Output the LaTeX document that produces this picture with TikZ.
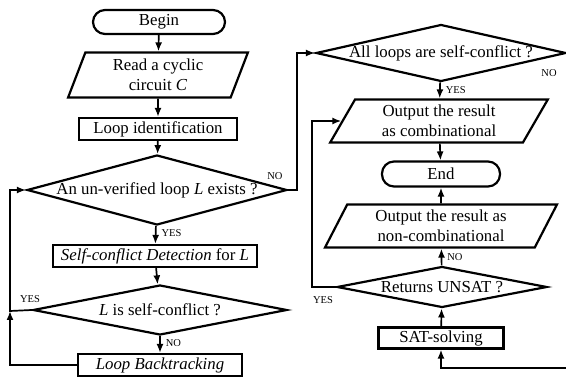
\documentclass[tikz,border=0pt]{standalone}
\usepackage{fontspec}
\setmainfont{Liberation Serif}
\usetikzlibrary{shapes.geometric,arrows.meta}

\begin{document}
\begin{tikzpicture}[x=1pt, y=-1pt, >={Latex[length=9pt,width=7pt]},
    every node/.style={font=\fontsize{16.8}{20}\selectfont, inner sep=1pt},
    term/.style={draw, line width=2.2pt, rounded corners=12pt, minimum height=24pt},
    proc/.style={draw, line width=2.2pt, minimum height=22pt},
    io/.style={draw, line width=2.2pt, trapezium, trapezium stretches=true, align=center},
    dec/.style={draw, line width=2.2pt, diamond, inner sep=0pt},
    flow/.style={->, line width=1.7pt},
    tag/.style={font=\fontsize{10.5}{12}\selectfont}]
        \useasboundingbox (0,0) rectangle (566,377);

        % left column
        \node[term, minimum width=132pt] (begin) at (159,22) {Begin};
        \node[io, trapezium left angle=72, trapezium right angle=108,
              minimum width=180pt, minimum height=45pt] (read) at (158,75)
              {Read a cyclic\\circuit \textit{C}};
        \node[proc, minimum width=158pt] (ident) at (158,129) {Loop identification};
        \node[dec, minimum width=260pt, minimum height=70pt,
              label=center:{An un-verified loop \textit{L} exists ?}] (exists) at (157,190) {};
        \node[proc, minimum width=204pt] (detect) at (155,256)
              {\textit{Self-conflict Detection} for \textit{L}};
        \node[dec, minimum width=254pt, minimum height=50pt,
              label=center:{\textit{L} is self-conflict ?}] (isself) at (160,310) {};
        \node[proc, minimum width=164pt] (back) at (160,365) {\textit{Loop Backtracking}};

        % right column
        \node[dec, minimum width=250pt, minimum height=57pt,
              label=center:{All loops are self-conflict ?}] (allself) at (441,53) {};
        \node[io, trapezium left angle=63, trapezium right angle=117,
              minimum width=218pt, minimum height=43pt] (comb) at (439,121)
              {Output the result\\as combinational};
        \node[term, minimum width=118pt, minimum height=25pt] (end) at (441,174) {End};
        \node[io, trapezium left angle=65, trapezium right angle=115,
              minimum width=232pt, minimum height=43pt] (noncomb) at (441,226)
              {Output the result as\\non-combinational};
        \node[dec, minimum width=210pt, minimum height=41pt,
              label=center:{Returns UNSAT ?}] (unsat) at (442,287) {};
        \node[proc, minimum width=125pt, minimum height=21pt] (sat) at (441,338) {SAT-solving};

        \coordinate (lft) at (10,311);
        \coordinate (rgt) at (569,368);

        \draw[flow] (begin) -- (read);
        \draw[flow] (read) -- (ident);
        \draw[flow] (ident) -- (exists);
        \draw[flow] (exists) -- node[tag, right=4pt, pos=0.4] {YES} (detect);
        \draw[flow] (detect) -- (isself);
        \draw[flow] (isself) -- node[tag, right=4pt, pos=0.4] {NO} (back);
        \draw[flow] (isself.west) -- (lft) |- (exists.west);
        \node[tag] at (30,299) {YES};
        \draw[flow] (back.west) -| (lft);
        \draw[flow] (exists.east) -- ++(9,0) |- (allself.west);
        \node[tag] at (275,176) {NO};

        \draw[flow] (allself) -- node[tag, right=4pt, pos=0.45] {YES} (comb);
        \node[tag] at (549,73) {NO};
        \draw[line width=1.7pt] (allself.east) -- (rgt |- allself.east) -- (rgt);
        \draw[flow] (rgt) -| (sat.south);
        \draw[flow] (comb) -- (end);
        \draw[flow] (noncomb) -- (end);
        \draw[flow] (unsat) -- node[tag, right=4pt, pos=0.5] {NO} (noncomb);
        \draw[flow] (sat) -- (unsat);
        \draw[flow] (unsat.west) -- ++(-24,0) |- (comb.west);
        \node[tag] at (323,300) {YES};
\end{tikzpicture}
\end{document}
